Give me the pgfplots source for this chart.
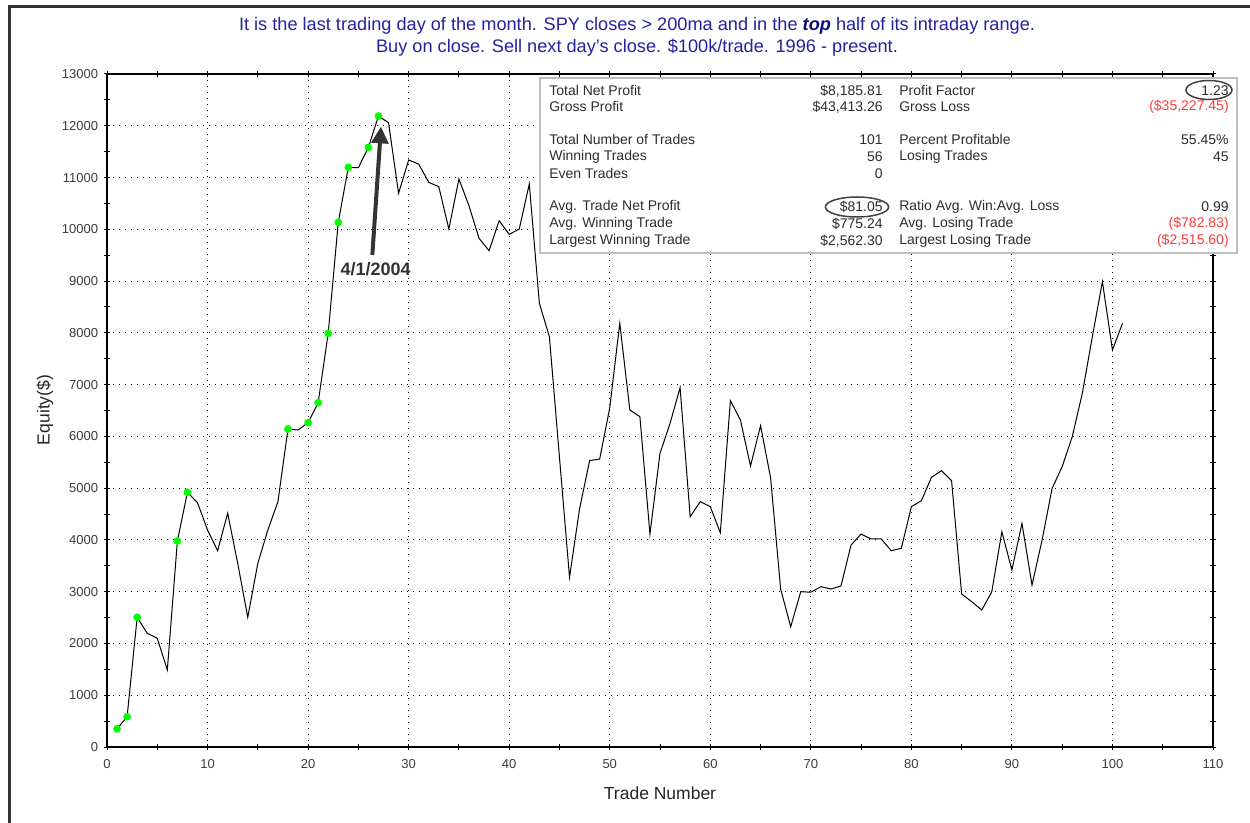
\documentclass[border=0pt]{standalone}
\usepackage{fontspec}
\setmainfont{Liberation Sans}
\usepackage{pgfplots}
\pgfplotsset{compat=1.18}
\usetikzlibrary{arrows.meta}
\definecolor{titleblue}{RGB}{35,35,160}
\definecolor{topblue}{RGB}{10,10,120}
\definecolor{stattext}{RGB}{45,45,45}
\definecolor{statred}{RGB}{255,60,60}
\definecolor{ticktext}{RGB}{60,60,60}
\begin{document}
\begin{tikzpicture}
\useasboundingbox (0,0) rectangle (750pt,493.2pt);
\fill[white] (0,0) rectangle (750pt,493.2pt);
% outer frame
\draw[line width=1.8pt, black!80] (5.4pt,-2pt) -- (5.4pt,489pt) -- (752pt,489pt);
\begin{axis}[
  at={(64.2pt,45pt)}, anchor=south west,
  scale only axis, width=663.6pt, height=403.8pt,
  xmin=0, xmax=110, ymin=0, ymax=13000,
  xtick={0,10,...,110}, ytick={0,1000,...,13000},
  minor xtick={5,15,...,105}, minor ytick={500,1500,...,12500},
  scaled y ticks=false, scaled x ticks=false,
  tick align=center,
  major tick length=3.6pt, minor tick length=3.6pt,
  tick style={black, line width=0.6pt},
  axis line style={black, line width=0.9pt},
  grid=major,
  major grid style={black, line width=0.6pt, dash pattern=on 0.6pt off 3pt},
  /pgf/number format/1000 sep={},
  /pgf/number format/assume math mode=true,
  ticklabel style={font=\fontsize{7.8pt}{9pt}\selectfont, text=ticktext},
  xticklabel style={yshift=-2pt},
  clip=false,
]
\addplot[black, line width=0.6pt] coordinates {
(1,350) (2,585) (3,2505) (4,2196) (5,2100) (6,1487) (7,3979) (8,4920) (9,4720) (10,4192)
(11,3792) (12,4514) (13,3548) (14,2505) (15,3548) (16,4192) (17,4739) (18,6142) (19,6123) (20,6265)
(21,6651) (22,7990) (23,10135) (24,11197) (25,11190) (26,11583) (27,12188) (28,12060) (29,10695) (30,11338)
(31,11261) (32,10907) (33,10823) (34,10005) (35,10971) (36,10456) (37,9826) (38,9587) (39,10166) (40,9903)
(41,10005) (42,10875) (43,8571) (44,7926) (45,5600) (46,3278) (47,4600) (48,5531) (49,5563) (50,6550)
(51,8184) (52,6510) (53,6381) (54,4114) (55,5672) (56,6252) (57,6941) (58,4449) (59,4739) (60,4642)
(61,4140) (62,6690) (63,6316) (64,5428) (65,6207) (66,5200) (67,3050) (68,2324) (69,3000) (70,2990)
(71,3097) (72,3052) (73,3110) (74,3902) (75,4114) (76,4018) (77,4018) (78,3792) (79,3838) (80,4642)
(81,4758) (82,5209) (83,5338) (84,5144) (85,2955) (86,2807) (87,2646) (88,3000) (89,4159) (90,3419)
(91,4321) (92,3129) (93,3998) (94,4997) (95,5415) (96,5994) (97,6831) (98,7926) (99,8988) (100,7669)
(101,8185)
};
\addplot[only marks, mark=*, mark size=2.1pt, mark options={fill=green, draw=green}] coordinates {
(1,350) (2,585) (3,2505) (7,3979) (8,4920) (18,6142) (20,6265) (21,6651) (22,7990) (23,10135)
(24,11197) (26,11583) (27,12188)
};
\end{axis}
% titles
\node[text=titleblue, font=\fontsize{10.9pt}{12pt}\selectfont] at (382.2pt,477.6pt)
  {It is the last trading day of the month. SPY closes > 200ma and in the {\color{topblue}\textbf{\textit{top}}} half of its intraday range.};
\node[text=titleblue, font=\fontsize{10.9pt}{12pt}\selectfont] at (382.2pt,464.4pt)
  {Buy on close. Sell next day's close. \$100k/trade. 1996 - present.};
\node[rotate=90, font=\fontsize{10.5pt}{12pt}\selectfont, text=black!85] at (27pt,247.2pt) {Equity(\$)};
\node[font=\fontsize{10.5pt}{12pt}\selectfont, text=black!85] at (396pt,17.4pt) {Trade Number};
% arrow annotation
\draw[line width=2.4pt, black!80, -{Triangle[length=10pt,width=10pt]}] (223.4pt,340.2pt) -- (228.6pt,417.2pt);
\node[font=\fontsize{10.8pt}{12pt}\selectfont\bfseries, text=black!80] at (225.4pt,332pt) {4/1/2004};
% stats box
\draw[fill=white, draw=black!25, line width=1.5pt] (324pt,341.4pt) rectangle (742.2pt,446.4pt);
\begin{scope}[every node/.style={font=\fontsize{8.4pt}{9pt}\selectfont, text=stattext, inner sep=0pt}]
\node[anchor=west] at (329.4pt,438.6pt) {Total Net Profit};
\node[anchor=east] at (529.8pt,438.6pt) {\$8,185.81};
\node[anchor=west] at (539.4pt,438.6pt) {Profit Factor};
\node[anchor=east] at (737.4pt,438.6pt) {1.23};
\node[anchor=west] at (329.4pt,429pt) {Gross Profit};
\node[anchor=east] at (529.8pt,429pt) {\$43,413.26};
\node[anchor=west] at (539.4pt,429pt) {Gross Loss};
\node[anchor=east, text=statred] at (737.4pt,429pt) {(\$35,227.45)};
\node[anchor=west] at (329.4pt,409.2pt) {Total Number of Trades};
\node[anchor=east] at (529.8pt,409.2pt) {101};
\node[anchor=west] at (539.4pt,409.2pt) {Percent Profitable};
\node[anchor=east] at (737.4pt,409.2pt) {55.45\%};
\node[anchor=west] at (329.4pt,399pt) {Winning Trades};
\node[anchor=east] at (529.8pt,399pt) {56};
\node[anchor=west] at (539.4pt,399pt) {Losing Trades};
\node[anchor=east] at (737.4pt,399pt) {45};
\node[anchor=west] at (329.4pt,388.8pt) {Even Trades};
\node[anchor=east] at (529.8pt,388.8pt) {0};
\node[anchor=west] at (329.4pt,369pt) {Avg. Trade Net Profit};
\node[anchor=east] at (529.8pt,369pt) {\$81.05};
\node[anchor=west] at (539.4pt,369pt) {Ratio Avg. Win:Avg. Loss};
\node[anchor=east] at (737.4pt,369pt) {0.99};
\node[anchor=west] at (329.4pt,358.8pt) {Avg. Winning Trade};
\node[anchor=east] at (529.8pt,358.8pt) {\$775.24};
\node[anchor=west] at (539.4pt,358.8pt) {Avg. Losing Trade};
\node[anchor=east, text=statred] at (737.4pt,358.8pt) {(\$782.83)};
\node[anchor=west] at (329.4pt,348.6pt) {Largest Winning Trade};
\node[anchor=east] at (529.8pt,348.6pt) {\$2,562.30};
\node[anchor=west] at (539.4pt,348.6pt) {Largest Losing Trade};
\node[anchor=east, text=statred] at (737.4pt,348.6pt) {(\$2,515.60)};
\end{scope}
% ellipses
\draw[black!75, line width=0.9pt] (725.4pt,439.2pt) ellipse [x radius=13.8pt, y radius=5.7pt];
\draw[black!75, line width=0.9pt] (514.2pt,369pt) ellipse [x radius=19pt, y radius=6pt];
\end{tikzpicture}
\end{document}
